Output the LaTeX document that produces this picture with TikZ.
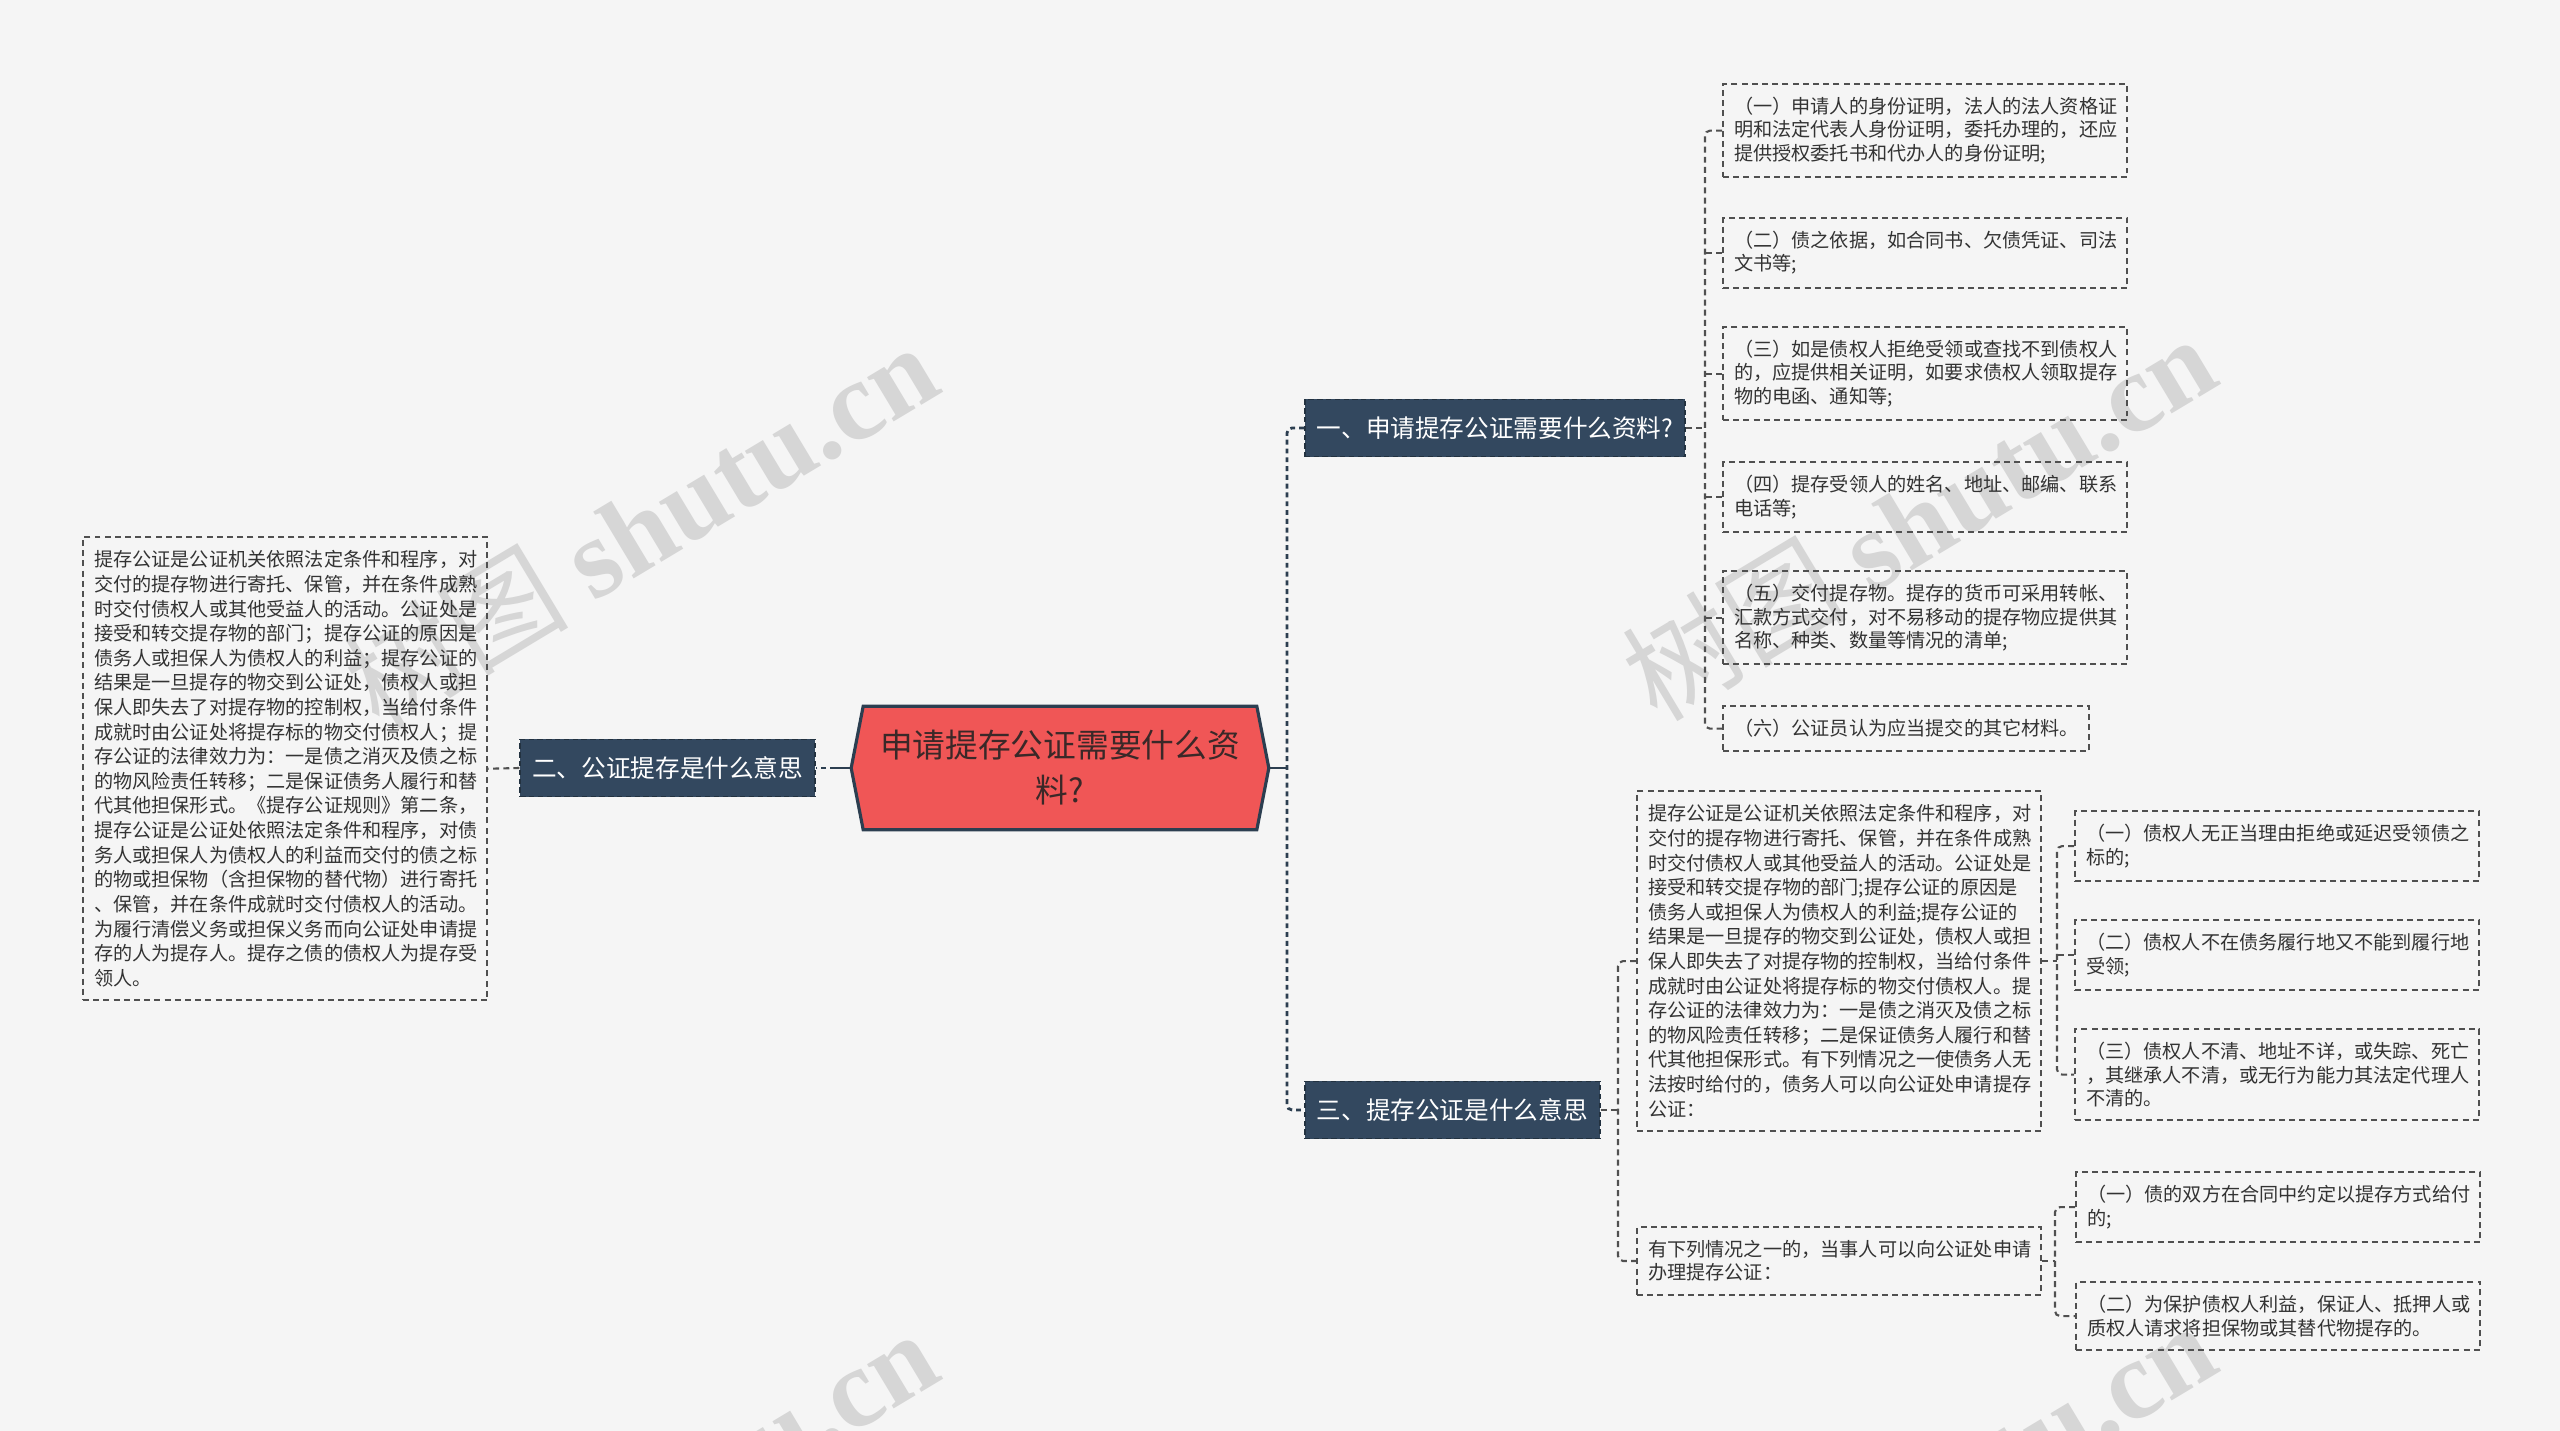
\documentclass[tikz,border=0pt]{standalone}
\usepackage{fontspec}
\setmainfont{Noto Sans CJK SC}
\newfontfamily\wmfont{Liberation Serif}
\usetikzlibrary{backgrounds}
\definecolor{pagebg}{HTML}{F5F5F5}
\definecolor{hexfill}{HTML}{F05656}
\definecolor{navy}{HTML}{2C3E50}
\definecolor{branchfill}{HTML}{33485F}
\definecolor{leafedge}{HTML}{505050}
\definecolor{leaftext}{HTML}{333333}
\definecolor{marktext}{HTML}{D6D6D6}
\definecolor{centretext}{HTML}{3A2828}
\tikzset{
  centre/.style={inner sep=0pt, minimum width=3.92cm, minimum height=1.22cm, text width=3.62cm, align=center, text=centretext, font=\fontsize{9.3pt}{12.8pt}\selectfont},
  hexagon/.style={fill=hexfill, draw=navy, line width=0.9pt, line join=miter},
  branch/.style={fill=branchfill, draw=navy!80!black, line width=0.5pt, dash pattern=on 1.5pt off 1pt, text=white, inner xsep=0.12cm, inner ysep=0pt, minimum height=0.57cm, font=\fontsize{7pt}{8pt}\selectfont},
  leaf/.style={draw=leafedge, line width=0.6pt, dash pattern=on 1.7pt off 1.2pt, text=leaftext, text width=3.82cm, align=left, inner xsep=0.11cm, inner ysep=0.135cm, anchor=north west, font=\fontsize{5.45pt}{6.55pt}\selectfont},
  longleaf/.style={leaf, font=\fontsize{5.45pt}{7pt}\selectfont},
  mainline/.style={draw=navy, line width=0.8pt},
  mainspine/.style={mainline, dash pattern=on 1.4pt off 1.1pt, rounded corners=0.05cm},
  leafline/.style={draw=leafedge, line width=0.6pt, dash pattern=on 1.7pt off 1.2pt, rounded corners=0.05cm},
  watermark/.style={text=marktext, rotate=31, inner sep=0pt, font=\fontsize{32pt}{32pt}\selectfont}
}
\begin{document}
\begin{tikzpicture}[x=0.01cm, y=-0.01cm]
  \useasboundingbox (0,0) rectangle (2560,1431);
  \begin{pgfonlayer}{background}
    \fill[pagebg] (0,0) rectangle (2560,1431);
  \end{pgfonlayer}

  % watermarks
  \node[watermark] (wm1) at (640,525) {树图 {\wmfont\bfseries shutu.cn}};
  \node[watermark] (wm2) at (1918,517) {树图 {\wmfont\bfseries shutu.cn}};
  \node[watermark] (wm3) at (640,1512) {树图 {\wmfont\bfseries shutu.cn}};
  \node[watermark] (wm4) at (1918,1504) {树图 {\wmfont\bfseries shutu.cn}};

  % centre
  \node[centre] (central) at (1060,768) {申请提存公证需要什么资\\料?};
  \coordinate (cL) at ([xshift=-0.12cm]central.west);
  \coordinate (cR) at ([xshift=0.12cm]central.east);
  \begin{pgfonlayer}{background}
    \filldraw[hexagon] (central.north west) -- (central.north east) -- (cR)
      -- (central.south east) -- (central.south west) -- (cL) -- cycle;
  \end{pgfonlayer}

  % branches
  \node[branch, anchor=west] (b1) at (1304,428) {一、申请提存公证需要什么资料?};
  \node[branch, anchor=east] (b2) at (816,768) {二、公证提存是什么意思};
  \node[branch, anchor=west] (b3) at (1304,1110) {三、提存公证是什么意思};

  \coordinate (hubR) at (1287,768);
  \coordinate (hubL) at (835,768);
  \draw[mainline] (cR) -- (hubR);
  \draw[mainspine] (b1.west) -| (hubR) |- (b3.west);
  \draw[mainline] (cL) -- (hubL);
  \draw[mainspine] (hubL) -- (b2.east);

  % branch 1 leaves
  \node[leaf] (l11) at (1722,83) {（一）申请人的身份证明，法人的法人资格证\\
    明和法定代表人身份证明，委托办理的，还应\\
    提供授权委托书和代办人的身份证明;};
  \node[leaf] (l12) at (1722,217) {（二）债之依据，如合同书、欠债凭证、司法\\
    文书等;};
  \node[leaf] (l13) at (1722,326) {（三）如是债权人拒绝受领或查找不到债权人\\
    的，应提供相关证明，如要求债权人领取提存\\
    物的电函、通知等;};
  \node[leaf] (l14) at (1722,461) {（四）提存受领人的姓名、地址、邮编、联系\\
    电话等;};
  \node[leaf] (l15) at (1722,570) {（五）交付提存物。提存的货币可采用转帐、\\
    汇款方式交付，对不易移动的提存物应提供其\\
    名称、种类、数量等情况的清单;};
  \node[leaf, text width=3.44cm] (l16) at (1722,705) {（六）公证员认为应当提交的其它材料。};

  \coordinate (s1) at (1705,428);
  \draw[leafline] (b1.east) -- (b1.east -| s1);
  \draw[leafline] (l11.west) -| (s1) |- (l16.west);
  \foreach \n in {12,...,15}
    \draw[leafline] (l\n.west) -- (l\n.west -| s1);

  % branch 2 leaf
  \node[longleaf] (l21) at (82,536) {提存公证是公证机关依照法定条件和程序，对\\
    交付的提存物进行寄托、保管，并在条件成熟\\
    时交付债权人或其他受益人的活动。公证处是\\
    接受和转交提存物的部门；提存公证的原因是\\
    债务人或担保人为债权人的利益；提存公证的\\
    结果是一旦提存的物交到公证处，债权人或担\\
    保人即失去了对提存物的控制权，当给付条件\\
    成就时由公证处将提存标的物交付债权人；提\\
    存公证的法律效力为：一是债之消灭及债之标\\
    的物风险责任转移；二是保证债务人履行和替\\
    代其他担保形式。《提存公证规则》第二条，\\
    提存公证是公证处依照法定条件和程序，对债\\
    务人或担保人为债权人的利益而交付的债之标\\
    的物或担保物（含担保物的替代物）进行寄托\\
    、保管，并在条件成就时交付债权人的活动。\\
    为履行清偿义务或担保义务而向公证处申请提\\
    存的人为提存人。提存之债的债权人为提存受\\
    领人。};
  \draw[leafline] (b2.west) -- (l21.east);

  % branch 3 leaves
  \node[longleaf] (l31) at (1636,790) {提存公证是公证机关依照法定条件和程序，对\\
    交付的提存物进行寄托、保管，并在条件成熟\\
    时交付债权人或其他受益人的活动。公证处是\\
    接受和转交提存物的部门;提存公证的原因是\\
    债务人或担保人为债权人的利益;提存公证的\\
    结果是一旦提存的物交到公证处，债权人或担\\
    保人即失去了对提存物的控制权，当给付条件\\
    成就时由公证处将提存标的物交付债权人。提\\
    存公证的法律效力为：一是债之消灭及债之标\\
    的物风险责任转移；二是保证债务人履行和替\\
    代其他担保形式。有下列情况之一使债务人无\\
    法按时给付的，债务人可以向公证处申请提存\\
    公证：};
  \node[leaf] (l32) at (1636,1226) {有下列情况之一的，当事人可以向公证处申请\\
    办理提存公证：};

  \coordinate (s3) at (1618,1110);
  \draw[leafline] (b3.east) -- (b3.east -| s3);
  \draw[leafline] (l31.west) -| (s3) |- (l32.west);

  \node[leaf] (l311) at (2074,810) {（一）债权人无正当理由拒绝或延迟受领债之\\
    标的;};
  \node[leaf] (l312) at (2074,919) {（二）债权人不在债务履行地又不能到履行地\\
    受领;};
  \node[leaf] (l313) at (2074,1028) {（三）债权人不清、地址不详，或失踪、死亡\\
    ，其继承人不清，或无行为能力其法定代理人\\
    不清的。};

  \coordinate (s31) at (2057,959);
  \draw[leafline] (l31.east) -- (l31.east -| s31);
  \draw[leafline] (l311.west) -| (s31) |- (l313.west);
  \draw[leafline] (l312.west) -- (l312.west -| s31);

  \node[leaf] (l321) at (2075,1171) {（一）债的双方在合同中约定以提存方式给付\\
    的;};
  \node[leaf] (l322) at (2075,1281) {（二）为保护债权人利益，保证人、抵押人或\\
    质权人请求将担保物或其替代物提存的。};

  \coordinate (s32) at (2055,1260);
  \draw[leafline] (l32.east) -- (l32.east -| s32);
  \draw[leafline] (l321.west) -| (s32) |- (l322.west);
\end{tikzpicture}
\end{document}
